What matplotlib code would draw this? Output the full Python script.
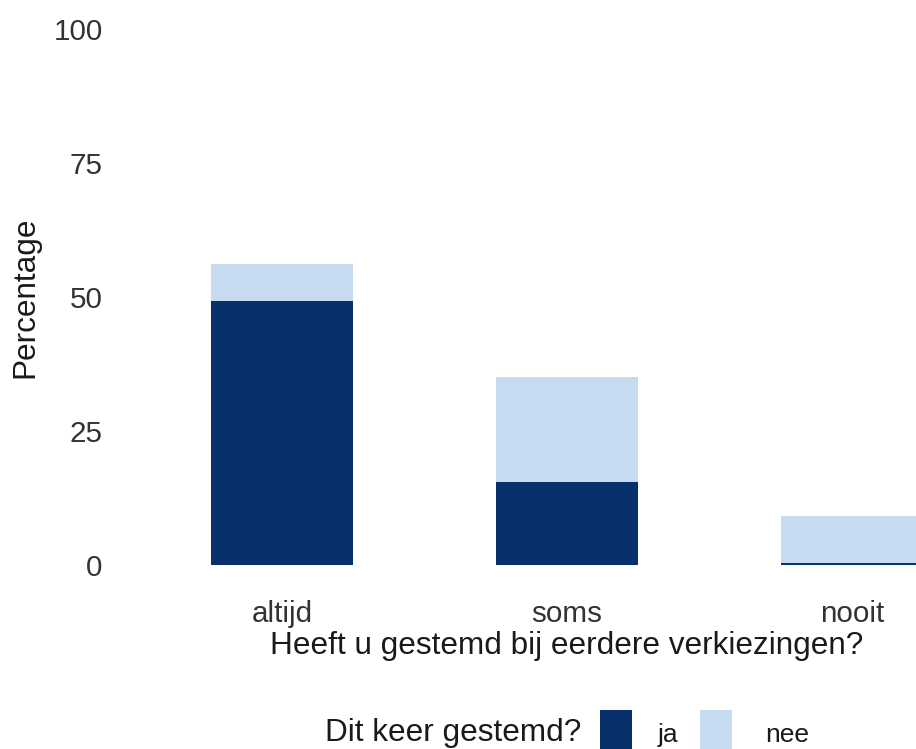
import matplotlib.pyplot as plt
from matplotlib.patches import Rectangle

# data
categories = ["altijd", "soms", "nooit"]
ja = [49.3, 15.6, 0.4]
nee = [6.9, 19.4, 8.8]
legend_labels = ["ja", "nee"]
y_ticks = [0, 25, 50, 75, 100]

col_ja = "#08306B"
col_nee = "#C6DBEF"

plt.rcParams["font.family"] = ["Liberation Sans", "DejaVu Sans"]

W, H = 916, 749
fig = plt.figure(figsize=(W / 100, H / 100), dpi=100)

# panel runs past the right edge, like the cropped original
left, right, top, bottom = 111, 1023, 2, 592
ax = fig.add_axes([left / W, 1 - bottom / H, (right - left) / W, (bottom - top) / H])

x = list(range(1, len(categories) + 1))
ax.bar(x, ja, width=0.5, color=col_ja)
ax.bar(x, nee, width=0.5, bottom=ja, color=col_nee)

ax.set_xlim(0.4, 3.6)
ax.set_ylim(-5, 105)
ax.set_xticks(x)
ax.set_xticklabels(categories)
ax.set_yticks(y_ticks)
ax.tick_params(length=0, labelsize=21.3, labelcolor="#333333", pad=6)
for s in ax.spines.values():
    s.set_visible(False)
ax.set_xlabel("Heeft u gestemd bij eerdere verkiezingen?", fontsize=22.7,
              color="#1a1a1a", labelpad=2)
ax.set_ylabel("Percentage", fontsize=22.7, color="#1a1a1a")
ax.yaxis.set_label_coords((40 - left) / (right - left), 0.5)

# legend drawn by hand: title on the left, keys in a row
fig.text(325 / W, 1 - 733 / H, "Dit keer gestemd?", fontsize=22.7,
         color="#1a1a1a", ha="left", va="center")
for key_x, lab_x, col, lab in [(600, 658, col_ja, legend_labels[0]),
                               (700, 765, col_nee, legend_labels[1])]:
    fig.add_artist(Rectangle((key_x / W, 1 - 752 / H), 32 / W, 42 / H,
                             transform=fig.transFigure, color=col, lw=0))
    fig.text(lab_x / W, 1 - 735 / H, lab, fontsize=19, color="#1a1a1a",
             ha="left", va="center")

fig.savefig("out.png", dpi=100)
